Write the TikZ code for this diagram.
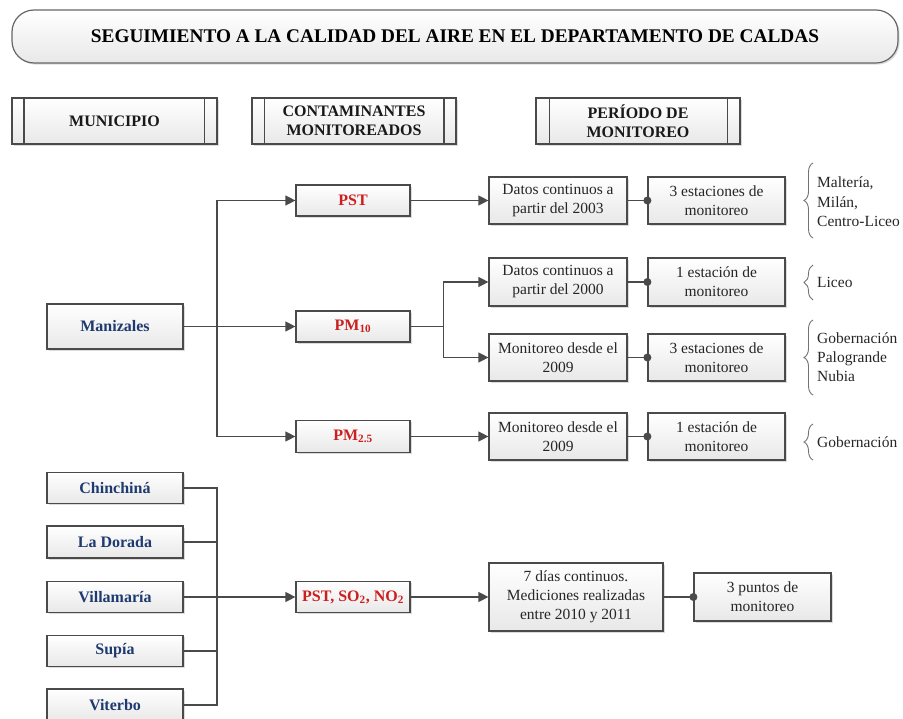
\documentclass[tikz,border=0pt]{standalone}
\usepackage{fontspec}
\setmainfont{Liberation Serif}
\usetikzlibrary{arrows.meta,shadows,decorations.pathreplacing,calc}
\definecolor{lineC}{HTML}{4A4A4A}
\definecolor{muniC}{HTML}{1F3A6E}
\definecolor{pollC}{HTML}{CC1F1F}
\definecolor{txtC}{HTML}{262626}
\tikzset{
  boxbase/.style={draw=lineC, line width=1.2pt, top color=white, bottom color=black!9,
    drop shadow={shadow xshift=1.6pt, shadow yshift=-1.6pt, fill=black!35, opacity=0.4},
    inner sep=0pt, align=center, text=txtC, font=\fontsize{15.5}{19}\selectfont},
  titlebox/.style={boxbase, draw=black!60, rounded corners=22pt, minimum width=886pt, minimum height=53pt,
    font=\fontsize{19.3}{22}\selectfont\bfseries, text=black},
  headbox/.style={boxbase, minimum width=204pt, minimum height=46pt,
    font=\fontsize{16}{19}\selectfont\bfseries, text=black!90},
  munibox/.style={boxbase, minimum width=136pt, text=muniC,
    font=\fontsize{16}{19}\selectfont\bfseries},
  pollbox/.style={boxbase, minimum width=114pt, minimum height=31pt, text=pollC,
    font=\fontsize{16}{19}\selectfont\bfseries},
  infobox/.style={boxbase, minimum width=138pt, minimum height=47pt},
  stabox/.style={boxbase, minimum width=137pt, minimum height=47pt},
  conn/.style={draw=lineC, line width=1.3pt},
  arr/.style={conn, -{Triangle[length=10pt,width=10pt]}},
  dotc/.style={fill=lineC},
  bracec/.style={draw=black!55, line width=0.9pt, decorate, decoration={brace, amplitude=9pt}},
  bracetxt/.style={anchor=west, align=left, inner sep=0pt, text=txtC, font=\fontsize{15.5}{19.2}\selectfont},
}
\begin{document}
\begin{tikzpicture}[x=1pt, y=-1pt]
\useasboundingbox (0,0) rectangle (903,719);

% title
\node[titlebox] (title) at (455,36.5) {SEGUIMIENTO A LA CALIDAD DEL AIRE EN EL DEPARTAMENTO DE CALDAS};

% headers
\node[headbox, minimum width=205pt] (h1) at (114.5,121) {MUNICIPIO};
\node[headbox] (h2) at (354,121) {CONTAMINANTES\\MONITOREADOS};
\node[headbox] (h3) at (638,121) {PERÍODO DE\\MONITOREO};
\foreach \h/\a/\b in {h1/12.5pt/13pt, h2/13pt/12.5pt, h3/14pt/13pt}{
  \draw[conn] ([xshift=\a]\h.north west) -- ([xshift=\a]\h.south west);
  \draw[conn] ([xshift=-\b]\h.north east) -- ([xshift=-\b]\h.south east);
}

% Manizales branch
\node[munibox, minimum height=45pt] (mz) at (115,326.5) {Manizales};
\node[pollbox] (pst) at (353,200.5) {PST};
\node[pollbox] (pm10) at (353,326.5) {PM\textsubscript{10}};
\node[pollbox, minimum height=32pt] (pm25) at (353,436.5) {PM\textsubscript{2.5}};

\node[infobox] (d03) at (558,200.5) {Datos continuos a\\partir del 2003};
\node[stabox] (e1) at (716.5,200.5) {3 estaciones de\\monitoreo};
\node[infobox, minimum height=48pt] (d00) at (558,282) {Datos continuos a\\partir del 2000};
\node[stabox, minimum height=48pt] (e2) at (716.5,282) {1 estación de\\monitoreo};
\node[infobox] (m9a) at (558,357.5) {Monitoreo desde el\\2009};
\node[stabox] (e3) at (716.5,357.5) {3 estaciones de\\monitoreo};
\node[infobox] (m9b) at (558,436.5) {Monitoreo desde el\\2009};
\node[stabox] (e4) at (716.5,436.5) {1 estación de\\monitoreo};

\coordinate (j1) at (217,326.5);
\coordinate (j2) at (443.7,326.5);
\draw[conn] (mz.east) -- (j1);
\draw[arr] (j1) |- (pst.west);
\draw[arr] (j1) -- (pm10.west);
\draw[arr] (j1) |- (pm25.west);
\draw[arr] (pst.east) -- (d03.west);
\draw[conn] (pm10.east) -- (j2);
\draw[arr] (j2) |- (d00.west);
\draw[arr] (j2) |- (m9a.west);
\draw[arr] (pm25.east) -- (m9b.west);
\foreach \a/\b in {d03/e1, d00/e2, m9a/e3, m9b/e4}{
  \draw[conn] (\a.east) -- (\b.west);
  \fill[dotc] (\b.west) circle (4pt);
}

% braces
\coordinate (b1a) at (813,238); \coordinate (b1b) at (813,163);
\coordinate (b2a) at (813,300); \coordinate (b2b) at (813,265);
\coordinate (b3a) at (813,395); \coordinate (b3b) at (813,320);
\coordinate (b4a) at (813,460); \coordinate (b4b) at (813,424);
\draw[bracec] (b1a) -- (b1b);
\draw[bracec] (b2a) -- (b2b);
\draw[bracec] (b3a) -- (b3b);
\draw[bracec] (b4a) -- (b4b);
\node[bracetxt] (t1) at (817,201.7) {Maltería,\\Milán,\\Centro-Liceo};
\node[bracetxt] (t2) at (817,282) {Liceo};
\node[bracetxt] (t3) at (817,357) {Gobernación\\Palogrande\\Nubia};
\node[bracetxt] (t4) at (817,442) {Gobernación};

% other municipios
\node[munibox, minimum height=31pt] (chi) at (115,488) {Chinchiná};
\node[munibox, minimum height=32pt] (lad) at (115,542) {La Dorada};
\node[munibox, minimum height=31pt] (vil) at (115,597) {Villamaría};
\node[munibox, minimum height=31pt] (sup) at (115,651) {Supía};
\node[munibox, minimum height=32pt] (vit) at (115,705) {Viterbo};
\node[pollbox] (pso) at (353,597) {PST, SO\textsubscript{2}, NO\textsubscript{2}};
\node[boxbase, minimum width=174pt, minimum height=68pt] (dias) at (576,597) {7 días continuos.\\Mediciones realizadas\\entre 2010 y 2011};
\node[stabox, minimum height=48pt] (pts) at (762.5,597) {3 puntos de\\monitoreo};

\coordinate (j3) at (217,597);
\draw[conn] (chi.east) -| (j3);
\draw[conn] (vit.east) -| (j3);
\draw[conn] (lad.east) -- (lad.east -| j3);
\draw[conn] (sup.east) -- (sup.east -| j3);
\draw[arr] (vil.east) -- (pso.west);
\draw[arr] (pso.east) -- (dias.west);
\draw[conn] (dias.east) -- (pts.west);
\fill[dotc] (pts.west) circle (4pt);
\end{tikzpicture}
\end{document}
